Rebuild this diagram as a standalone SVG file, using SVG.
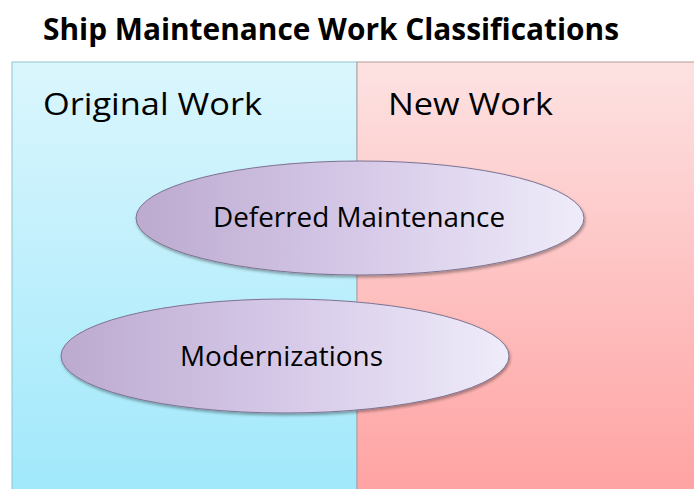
<svg xmlns="http://www.w3.org/2000/svg" width="694" height="489" viewBox="0 0 694 489">
<style>
text { font-family: "Open Sans", "Noto Sans", "Liberation Sans", sans-serif; fill: #000; }
.title { font-size: 30px; font-weight: bold; }
.head { font-size: 31px; }
.lbl { font-size: 27px; }
.ell { stroke: #7d7391; stroke-width: 1; }
</style>
<defs>
<linearGradient id="gBlue" x1="0" y1="0" x2="0" y2="1">
<stop offset="0" stop-color="#dbf6fd"/>
<stop offset="1" stop-color="#9fe8fb"/>
</linearGradient>
<linearGradient id="gPink" x1="0" y1="0" x2="0" y2="1">
<stop offset="0" stop-color="#fde2e2"/>
<stop offset="1" stop-color="#ffa1a1"/>
</linearGradient>
<linearGradient id="gEll" x1="0" y1="0" x2="1" y2="0">
<stop offset="0" stop-color="#bcaacf"/>
<stop offset="0.5" stop-color="#d6c9e8"/>
<stop offset="1" stop-color="#efecfa"/>
</linearGradient>
<filter id="sh" x="-10%" y="-20%" width="120%" height="140%">
<feGaussianBlur in="SourceAlpha" stdDeviation="1.5"/>
<feOffset dx="1" dy="2" result="b"/>
<feComponentTransfer><feFuncA type="linear" slope="0.35"/></feComponentTransfer>
<feMerge><feMergeNode/><feMergeNode in="SourceGraphic"/></feMerge>
</filter>
</defs>
<rect width="694" height="489" fill="#ffffff"/>
<text class="title" x="43" y="40" textLength="576" lengthAdjust="spacingAndGlyphs">Ship Maintenance Work Classifications</text>
<g id="original-work">
<rect x="12" y="62" width="345" height="440" fill="url(#gBlue)" stroke="#8fc3d0" stroke-width="1"/>
<text class="head" x="43" y="115" textLength="219" lengthAdjust="spacingAndGlyphs">Original Work</text>
</g>
<g id="new-work">
<rect x="357" y="62" width="345" height="440" fill="url(#gPink)" stroke="#b39a9c" stroke-width="1"/>
<text class="head" x="388" y="115" textLength="165" lengthAdjust="spacingAndGlyphs">New Work</text>
</g>
<g id="connectors"></g>
<g id="deferred-maintenance">
<ellipse class="ell" cx="360" cy="218" rx="224" ry="57" fill="url(#gEll)" filter="url(#sh)"/>
<text class="lbl" x="213" y="227" textLength="292" lengthAdjust="spacingAndGlyphs">Deferred Maintenance</text>
</g>
<g id="modernizations">
<ellipse class="ell" cx="285" cy="356" rx="224" ry="57" fill="url(#gEll)" filter="url(#sh)"/>
<text class="lbl" x="180" y="366" textLength="203" lengthAdjust="spacingAndGlyphs">Modernizations</text>
</g>
</svg>
